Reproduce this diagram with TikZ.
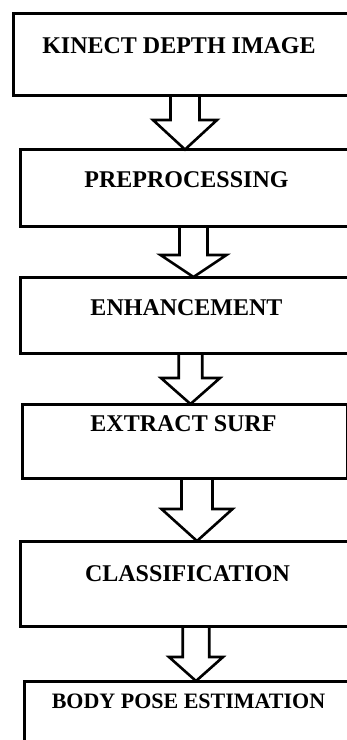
\documentclass[tikz,border=0pt]{standalone}
\usepackage{fontspec}
\setmainfont{Liberation Serif}
\usetikzlibrary{calc,backgrounds}
\newcommand\blkarrow[6]{% #1 from node, #2 to node, #3 centre x, #4 shaft half width, #5 head half width, #6 head top y
  \coordinate (ax-#1) at (#3,#6);
  \begin{pgfonlayer}{background}
  \draw[blk] ($(#1.south -| ax-#1)+(-#4,0)$) -- ($(ax-#1)+(-#4,0)$) -- ($(ax-#1)+(-#5,0)$)
     -- (#2.north -| ax-#1) -- ($(ax-#1)+(#5,0)$) -- ($(ax-#1)+(#4,0)$) -- ($(#1.south -| ax-#1)+(#4,0)$);
  \end{pgfonlayer}
}
\begin{document}
\begin{tikzpicture}[x=1pt,y=-1pt,
  box/.style={draw=black, line width=3pt, inner sep=0pt, outer sep=0pt, anchor=north west},
  lbl/.style={font=\fontsize{24}{28}\selectfont\bfseries, anchor=base, inner sep=0pt, text=black},
  lblsmall/.style={lbl, font=\fontsize{22}{26}\selectfont\bfseries},
  blk/.style={draw=black, fill=white, line width=2.6pt, line join=miter}]
\path[use as bounding box, clip] (0,0) rectangle (347,740);
% boxes
\node[box, minimum width=400pt, minimum height=81.5pt] (b1) at (13.5,13.5) {};
\node[box, minimum width=400pt, minimum height=77pt]   (b2) at (20,149.5) {};
\node[box, minimum width=400pt, minimum height=76pt]   (b3) at (20,277) {};
\node[box, minimum width=325.8pt, minimum height=74pt] (b4) at (22,404) {};
\node[box, minimum width=400pt, minimum height=85pt]   (b5) at (20.5,541) {};
\node[box, minimum width=400pt, minimum height=100pt]  (b6) at (24,681) {};
% labels
\node[lbl] (t1) at (179,53) {KINECT DEPTH IMAGE};
\node[lbl] (t2) at (186.5,187) {PREPROCESSING};
\node[lbl] (t3) at (186.5,315) {ENHANCEMENT};
\node[lbl] (t4) at (183.5,431) {EXTRACT SURF};
\node[lbl] (t5) at (187.5,581) {CLASSIFICATION};
\node[lblsmall] (t6) at (188.5,708) {BODY POSE ESTIMATION};
% block arrows
\blkarrow{b1}{b2}{185}{14.5}{32}{120}
\blkarrow{b2}{b3}{193.5}{14}{33}{255}
\blkarrow{b3}{b4}{190.5}{11.75}{29.5}{378}
\blkarrow{b4}{b5}{197}{15.5}{35.5}{509}
\blkarrow{b5}{b6}{196}{13.25}{27}{657}
\end{tikzpicture}
\end{document}
